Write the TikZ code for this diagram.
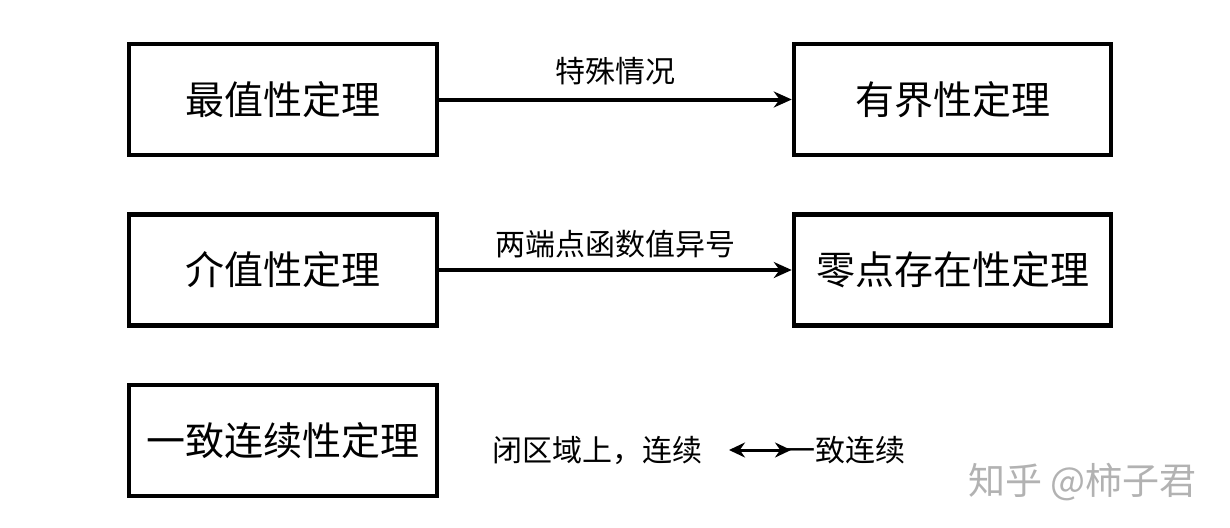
\documentclass[tikz,border=0pt]{standalone}
\usepackage{fontspec}
\newfontfamily\cjk{Noto Sans CJK SC}
\usetikzlibrary{arrows.meta}
\begin{document}
\begin{tikzpicture}[x=1pt,y=-1pt,
  thm/.style={draw=black,line width=4.5pt,inner sep=0pt,minimum height=111pt,font=\cjk\fontsize{39}{44}\selectfont},
  lbl/.style={inner sep=0pt,font=\cjk\fontsize{30}{35}\selectfont},
  conn/.style={line width=4pt,-{Stealth[length=18pt,width=16pt]}},
  wm/.style={inner sep=0pt,text=black!30,font=\cjk\fontsize{37}{42}\selectfont}]
\fill[white] (0,0) rectangle (1230,527);
\useasboundingbox (0,0) rectangle (1230,527);
\node[thm,minimum width=308pt] (a) at (283,99.5) {最值性定理};
\node[thm,minimum width=317pt] (b) at (952.5,99.5) {有界性定理};
\node[thm,minimum width=308pt] (c) at (283,270) {介值性定理};
\node[thm,minimum width=317pt] (d) at (952.5,270) {零点存在性定理};
\node[thm,minimum width=308pt] (e) at (283,440.5) {一致连续性定理};
\draw[conn] (a) -- node[lbl,above=12pt] {特殊情况} (b);
\draw[conn] (c) -- node[lbl,above=10pt] {两端点函数值异号} (d);
\node[lbl,anchor=east] (f) at (703,450) {闭区域上，连续};
\node[lbl,anchor=west] (g) at (785,450) {一致连续};
\draw[line width=3pt,{Stealth[length=16pt,width=15pt]}-{Stealth[length=16pt,width=15pt]}] ([xshift=26pt]f.east) -- ([xshift=6pt]g.west);
\node[wm,anchor=west] (w) at (968,482) {知乎 @柿子君};
\end{tikzpicture}
\end{document}
